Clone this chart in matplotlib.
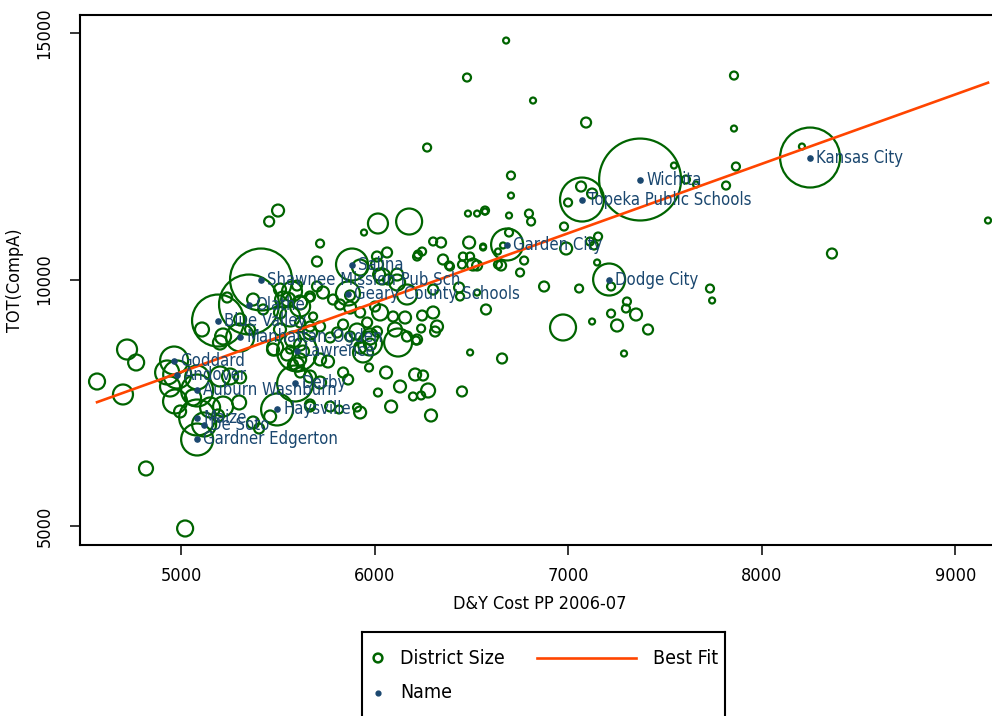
import numpy as np
import matplotlib
matplotlib.use("Agg")
import matplotlib.pyplot as plt

plt.rcParams["font.family"] = ["DejaVu Sans"]
plt.rcParams["font.stretch"] = "condensed"

# ── data: unlabeled districts (cost per pupil, TOT(CompA), enrollment) ──
# east / upper-right part of the cloud
cost_east = [6679, 6477, 6818, 7092, 7856, 7856, 7866, 6704, 6704, 7546,
             7608, 7660, 7815, 7066, 7123, 6271, 8207, 9168, 8362, 6570,
             6694, 6797, 6808, 6978, 6999, 6560, 6694, 6653, 6772, 6751,
             6989, 7112, 7133, 7154, 7149, 6875, 7056, 7732, 7743, 6575,
             7221, 7303, 7298, 7350, 7221, 7123, 7252, 7412, 6973, 7288,
             6658, 6493, 6451, 6663, 6637]
tot_east = [14847, 14097, 13630, 13184, 14137, 13062, 12292, 12109, 11703, 12312,
            12028, 11927, 11906, 11886, 11744, 12677, 12697, 11197, 10527, 11399,
            11298, 11338, 11176, 11075, 11562, 10649, 10953, 10284, 10385, 10142,
            10629, 10771, 10690, 10872, 10345, 9858, 9817, 9817, 9574, 9392,
            9858, 9554, 9412, 9290, 9310, 9148, 9067, 8986, 9027, 8499,
            8398, 8520, 7729, 10690, 10568]
enr_east = [270, 480, 270, 750, 480, 270, 480, 480, 270, 270,
            480, 270, 480, 750, 750, 480, 270, 270, 750, 480,
            270, 480, 480, 480, 480, 270, 480, 750, 480, 480,
            1080, 480, 480, 480, 270, 750, 480, 480, 270, 750,
            480, 480, 480, 1080, 480, 270, 1080, 750, 5070, 270,
            750, 270, 750, 270, 270]

# south-central (below the fit line, 5400-6300)
cost_south = [6059, 6209, 6250, 6131, 6017, 6276, 6198, 6240, 6085, 6291,
              5971, 5837, 5863, 5909, 5925, 5770, 5816, 5666, 5460, 5718,
              5759, 5615, 5578, 5615, 5940, 5976, 5666, 5718, 5666, 5547,
              5599]
tot_south = [8114, 8073, 8053, 7830, 7708, 7749, 7627, 7648, 7424, 7242,
             8215, 8114, 7972, 7404, 7303, 7424, 7364, 7424, 7222, 8378,
             8337, 8378, 8276, 8114, 8520, 8682, 8033, 7911, 7465, 8479,
             8276]
enr_south = [1080, 1080, 750, 1080, 480, 1470, 480, 480, 1080, 1080,
             480, 750, 750, 480, 1080, 750, 480, 750, 1080, 1080,
             1080, 1080, 750, 750, 3000, 1080, 1080, 1080, 750, 1080,
             1470]

# center, upper half (around and above the fit line)
cost_chi = [6451, 6353, 6389, 6224, 6245, 6302, 6456, 6493, 6529, 6560,
            6488, 5718, 5702, 6012, 6064, 6116, 6039, 5873, 5501, 5455,
            6017, 6178, 5945, 6012, 6384, 6482, 6529, 6570, 6508, 6637,
            5925, 6023, 6069, 6116, 6167, 6302, 6436, 6441, 6529, 6343,
            6219]
tot_chi = [10304, 10406, 10264, 10507, 10568, 10771, 10466, 10466, 10284, 10669,
           10750, 10730, 10365, 10304, 10548, 10101, 10061, 9676, 11399, 11176,
           11136, 11176, 10953, 10466, 10284, 11338, 11338, 11379, 10304, 10304,
           10243, 10101, 10000, 9939, 9696, 9797, 9838, 9655, 9736, 10750,
           10466]
enr_chi = [480, 750, 480, 480, 480, 480, 480, 480, 750, 270,
           1080, 480, 750, 1080, 750, 1080, 1920, 750, 1080, 750,
           3000, 5070, 270, 750, 480, 270, 270, 270, 1080, 480,
           1920, 1080, 750, 1920, 3000, 750, 750, 480, 270, 750,
           480]

# center, lower half
cost_clo = [6302, 6245, 6322, 6312, 6240, 6157, 6105, 6214, 6121, 5976,
            6095, 6028, 6002, 5961, 5925, 5873, 5821, 5785, 5733, 5702,
            5666, 5615, 5573, 5527, 5511, 5909, 5976, 6012, 5837, 5873,
            5806, 5770, 5718, 5666, 5615, 5578, 5511, 5475, 5630, 5925,
            6167, 6219]
tot_clo = [9331, 9270, 9047, 8945, 9006, 9229, 8986, 8763, 8722, 8702,
           9250, 9331, 9452, 9128, 9331, 9432, 9493, 9594, 9736, 9858,
           9655, 9534, 9757, 9594, 9797, 8945, 8844, 8945, 9087, 8844,
           8925, 8824, 9047, 8925, 9128, 8783, 8986, 8580, 8540, 8621,
           8844, 8783]
enr_clo = [1080, 750, 1080, 750, 480, 1080, 1470, 480, 5880, 4320,
           750, 1920, 750, 750, 750, 1080, 750, 750, 1080, 750,
           750, 1470, 3000, 1920, 1080, 1920, 1920, 750, 750, 750,
           750, 750, 750, 1470, 750, 1920, 1080, 1080, 1080, 1080,
           750, 750]

# west (low cost end)
cost_west = [5238, 5599, 5553, 5615, 5666, 5563, 5511, 5682, 5666, 5615,
             5486, 5563, 5217, 5201, 5108, 4721, 4768, 4566, 4700, 4928,
             4943, 4969, 5062, 5083, 5201, 5253, 5305, 5150, 5217, 5300,
             4995, 5191, 5372, 5403, 4819, 5021, 5372, 5424, 5305, 5356]
tot_west = [9635, 9878, 9594, 9452, 9635, 9250, 9331, 9250, 9047, 8682,
            8621, 8580, 8844, 8722, 8986, 8580, 8317, 7931, 7668, 8114,
            7830, 7526, 7607, 8013, 8033, 8033, 8013, 7404, 7424, 7506,
            7323, 7242, 7100, 6978, 6167, 4950, 9594, 9392, 9189, 8986]
enr_west = [750, 750, 1470, 3000, 480, 3000, 1080, 480, 750, 1080,
            1920, 480, 1920, 1470, 1470, 3000, 1920, 1920, 3000, 4320,
            3000, 4320, 1920, 4320, 3000, 1920, 1080, 3000, 3000, 1470,
            1080, 1080, 1080, 750, 1470, 1920, 1080, 750, 1080, 750]

# ── labeled districts ──
names = ["Kansas City", "Wichita", "Topeka Public Schools", "Garden City",
         "Dodge City", "Shawnee Mission Pub Sch", "Olathe", "Blue Valley",
         "Manhattan-Ogden", "Salina", "Geary County Schools", "Lawrence",
         "Derby", "Haysville", "Goddard", "Andover", "Auburn Washburn",
         "Maize", "De Soto", "Gardner Edgerton"]
cost_named = [8249, 7371, 7071, 6684, 7211, 5413, 5351, 5191, 5305, 5883,
              5862, 5599, 5589, 5496, 4964, 4980, 5083, 5083, 5119, 5083]
tot_named = [12474, 12028, 11622, 10710, 10000, 10000, 9493, 9168, 8824, 10304,
             9716, 8540, 7891, 7364, 8357, 8073, 7749, 7201, 7059, 6755]
enr_named = [27000, 50400, 14520, 7680, 7680, 28830, 27000, 20280, 5880, 7680,
             4320, 12000, 9720, 7680, 5880, 5880, 7680, 9720, 4320, 7680]

# best fit line
fit_intercept = 1083
fit_slope = 1.408

GREEN = "#006400"
NAVY = "#1a476f"
ORANGE = "#ff4500"

cost = np.array(cost_east + cost_south + cost_chi + cost_clo + cost_west + cost_named)
tot = np.array(tot_east + tot_south + tot_chi + tot_clo + tot_west + tot_named)
enr = np.array(enr_east + enr_south + enr_chi + enr_clo + enr_west + enr_named)

fig = plt.figure(figsize=(9.92, 7.16), dpi=100)
fig.patch.set_facecolor("white")
ax = fig.add_axes([80 / 992, 171 / 716, 920 / 992, 530 / 716])

ax.scatter(cost, tot, s=enr * 0.069, facecolors="none", edgecolors=GREEN,
           linewidths=1.6, zorder=2)

xs = np.array([cost.min(), cost.max()])
ax.plot(xs, fit_intercept + fit_slope * xs, color=ORANGE, linewidth=1.9, zorder=3)

ax.scatter(cost_named, tot_named, s=14, color=NAVY, zorder=4)
for n, cx, ty in zip(names, cost_named, tot_named):
    ax.annotate(n, (cx, ty), xytext=(4.5, 0), textcoords="offset points",
                va="center", ha="left", color=NAVY, fontsize=12, zorder=5)

ax.set_xlim(4478, 9230)
ax.set_ylim(4615, 15365)
ax.set_xticks([5000, 6000, 7000, 8000, 9000])
ax.set_yticks([5000, 10000, 15000])
ax.tick_params(length=7, width=1.1, labelsize=13)
ax.tick_params(axis="x", pad=9)
ax.tick_params(axis="y", pad=12)
for lab in ax.get_yticklabels():
    lab.set_rotation(90)
    lab.set_va("center")
for sp in ax.spines.values():
    sp.set_linewidth(1.5)
ax.set_xlabel("D&Y Cost PP 2006-07", fontsize=13, labelpad=7)
ax.set_ylabel("TOT(CompA)", fontsize=13, labelpad=8)

# legend box (bottom runs off the figure, as in the original)
lax = fig.add_axes([362 / 992, -10 / 716, 363 / 992, 94 / 716])
lax.set_xlim(0, 363)
lax.set_ylim(94, 0)
lax.set_xticks([])
lax.set_yticks([])
for sp in lax.spines.values():
    sp.set_linewidth(1.5)
lax.scatter([16], [26], s=40, facecolors="none", edgecolors=GREEN, linewidths=1.8)
lax.text(38, 26, "District Size", va="center", fontsize=14)
lax.plot([175, 274], [26, 26], color=ORANGE, linewidth=1.9)
lax.text(291, 26, "Best Fit", va="center", fontsize=14)
lax.scatter([16], [61], s=12, color=NAVY)
lax.text(38, 61, "Name", va="center", fontsize=14)

fig.savefig("out.png", dpi=100)
